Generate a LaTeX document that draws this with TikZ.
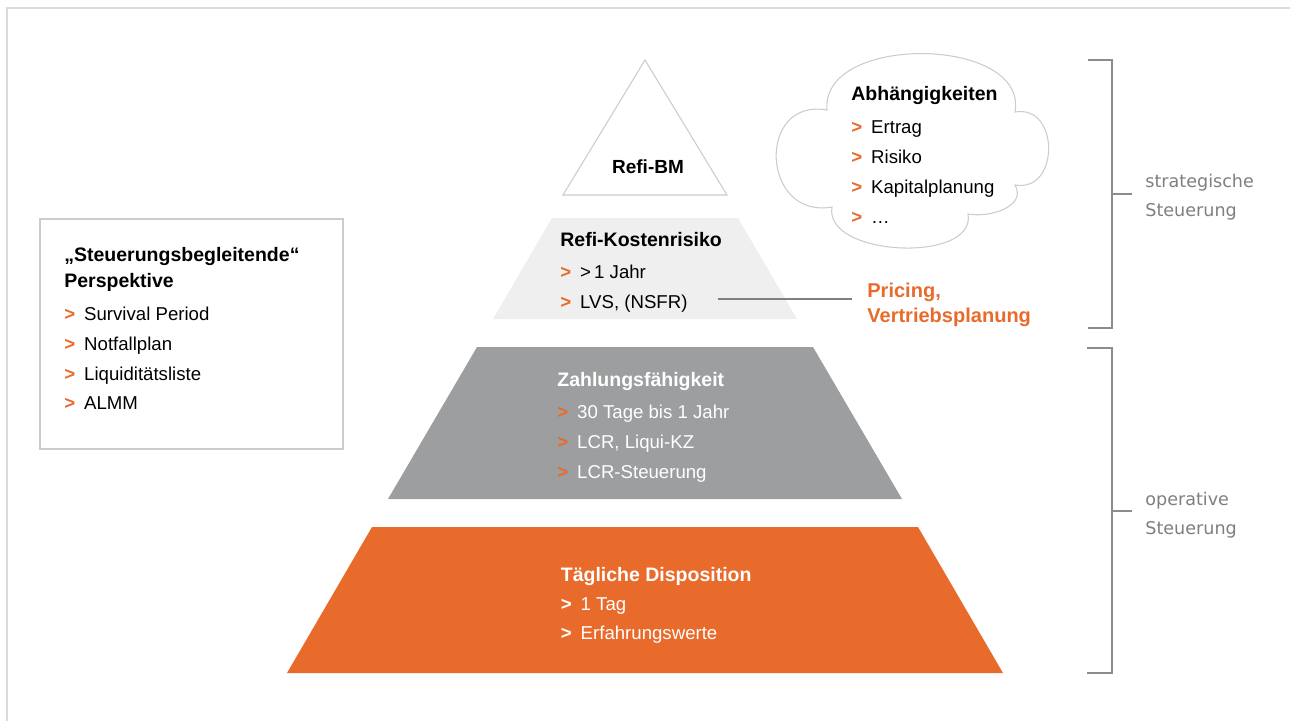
\documentclass[tikz,border=0pt]{standalone}
\usepackage{fontspec}
\setmainfont{Liberation Sans}
\newfontfamily\sidefont{DejaVu Sans}
\usepackage{xcolor}
\usetikzlibrary{calc}

\definecolor{accent}{HTML}{E96B2B}
\definecolor{stonegrey}{HTML}{9D9EA0}
\definecolor{palegrey}{HTML}{EFEFEF}
\definecolor{outlinegrey}{HTML}{CCCCCC}
\definecolor{framegrey}{HTML}{DADADA}
\definecolor{bracketgrey}{HTML}{8C8C8C}
\definecolor{labelgrey}{HTML}{7F7F7F}

\newcommand{\chev}[1][accent]{\makebox[11.3pt][l]{\textcolor{#1}{\textbf{>}}}}
\newcommand{\headline}[1]{{\fontsize{11.1}{17}\selectfont\bfseries #1}}

\tikzset{
	block/.style = {anchor = north west, inner sep = 0pt, align = left, font = \fontsize{10.6}{17}\selectfont},
	sidelabel/.style = {block, text = labelgrey, font = \fontsize{10}{16.4}\sidefont},
}

\begin{document}
\begin{tikzpicture}[x = 0.02cm, y = -0.02cm]
		\def\toptriangle{(645,60) -- (727,195) -- (563,195) -- cycle};
		\def\refitrapez{(552,218) -- (738,218) -- (797,319) -- (493,319) -- cycle};
		\def\zahlungtrapez{(477,347) -- (813,347) -- (902,499) -- (388,499) -- cycle};
		\def\dispotrapez{(372,527) -- (918,527) -- (1003,673) -- (287,673) -- cycle};
		\def\perspektivbox{(40,219) rectangle (343,449)};
		\def\cloudpath{(1015,112)
			to [out = 10, in = -10, looseness = 1.6] (1015,185)
			to [out = -60, in = -10, looseness = 1.1] (968,214)
			to [out = -80, in = -100, looseness = 0.95] (832,207)
			to [out = 190, in = 170, looseness = 1.9] (827,110)
			to [out = 95, in = 80, looseness = 1.05] (1015,112) -- cycle};
		
		\useasboundingbox (0,0) rectangle (1290,721);
		
		\begin{scope}
			\draw [framegrey, line width = 1.2pt] (7,721) -- (7,8) -- (1290,8);
		\end{scope}
		
		\begin{scope}
			\fill [white] \toptriangle;
			\draw [outlinegrey, line width = 0.6pt] \toptriangle;
			\fill [palegrey] \refitrapez;
			\fill [stonegrey] \zahlungtrapez;
			\fill [accent] \dispotrapez;
		\end{scope}
		
		\begin{scope}
			\draw [outlinegrey, line width = 0.8pt] \perspektivbox;
			\draw [outlinegrey, line width = 0.6pt, fill = white] \cloudpath;
		\end{scope}
		
		\begin{scope}
			\node [font = \fontsize{10.8}{17}\selectfont\bfseries] (refibm) at (648,167) {Refi-BM};
			\node [block] (refikosten) at (560,232.3) {\headline{Refi-Kostenrisiko}\\[1.3pt]
				\chev{}>\,1 Jahr\\
				\chev{}LVS, (NSFR)};
			\node [block, text = white] (zahlung) at (557,372.3) {\headline{Zahlungsfähigkeit}\\[1.3pt]
				\chev{}30 Tage bis 1 Jahr\\
				\chev{}LCR, Liqui-KZ\\
				\chev{}LCR-Steuerung};
			\node [block, text = white, font = \fontsize{10.6}{16.6}\selectfont] (dispo) at (560.5,567) {\headline{Tägliche Disposition}\\
				\chev[white]{}1 Tag\\
				\chev[white]{}Erfahrungswerte};
		\end{scope}
		
		\begin{scope}
			\node [block] (abhaengig) at (851,86.3) {\headline{Abhängigkeiten}\\[1.8pt]
				\chev{}Ertrag\\
				\chev{}Risiko\\
				\chev{}Kapitalplanung\\
				\chev{}…};
			\node [block] (perspektive) at (64,247.3) {\headline{„Steuerungsbegleitende“}\\[-2.2pt]
				\headline{Perspektive}\\[1.5pt]
				\chev{}Survival Period\\
				\chev{}Notfallplan\\
				\chev{}Liquiditätsliste\\
				\chev{}ALMM};
			\node [block, text = accent, font = \fontsize{11.4}{17}\selectfont\bfseries] (pricing) at (867,282.5) {Pricing,\\[-2.8pt]
				Vertriebsplanung};
			\coordinate (lvsend) at (718,299);
			\draw [labelgrey, line width = 0.6pt, shorten >= 8.5pt] (lvsend) -- (lvsend -| pricing.west);
		\end{scope}
		
		\begin{scope}
			\draw [bracketgrey, line width = 0.7pt] (1088,60) -- (1112,60) -- (1112,328) -- (1088,328);
			\draw [bracketgrey, line width = 0.7pt] (1087,348) -- (1112,348) -- (1112,673) -- (1087,673);
			\node [sidelabel] (strategisch) at (1145,173.6) {strategische\\ Steuerung};
			\node [sidelabel] (operativ) at (1145,491.5) {operative\\ Steuerung};
			\coordinate (stratspine) at (1112,194);
			\coordinate (operspine) at (1112,511);
			\draw [bracketgrey, line width = 0.7pt, shorten >= 7.4pt] (stratspine) -- (stratspine -| strategisch.west);
			\draw [bracketgrey, line width = 0.7pt, shorten >= 7.4pt] (operspine) -- (operspine -| operativ.west);
		\end{scope}
	\end{tikzpicture}
\end{document}
